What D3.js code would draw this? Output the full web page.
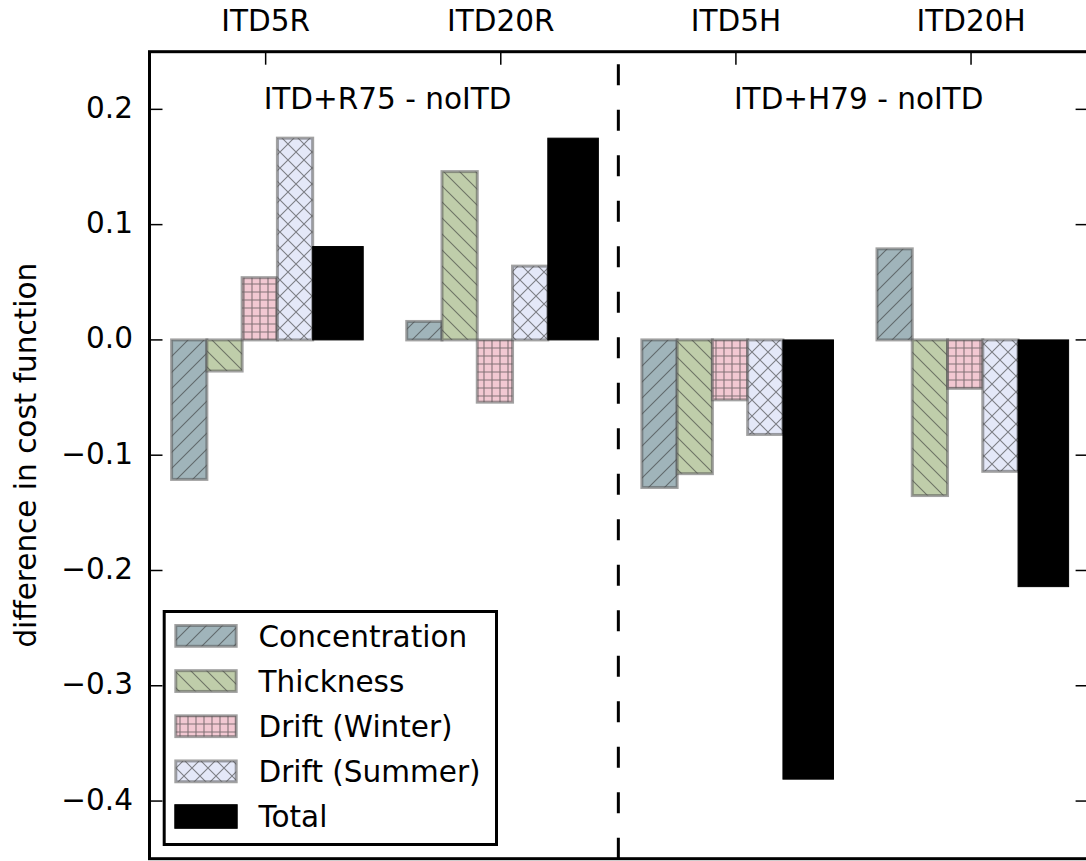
<!DOCTYPE html>
<html>
<head>
<meta charset="utf-8">
<script src="https://cdn.jsdelivr.net/npm/d3@7"></script>
<style>
  html, body { margin: 0; padding: 0; background: #fff; }
  svg { display: block; }
  text { font-family: "DejaVu Sans", sans-serif; fill: #000; }
</style>
</head>
<body>
<svg id="chart" width="1086" height="861"></svg>
<script>
// ---- data ----
const categories = ["ITD5R", "ITD20R", "ITD5H", "ITD20H"];
const seriesNames = ["Concentration", "Thickness", "Drift (Winter)", "Drift (Summer)", "Total"];
const concentration = [-0.121, 0.016, -0.128, 0.079];
const thickness     = [-0.027, 0.146, -0.116, -0.135];
const driftWinter   = [0.054, -0.054, -0.052, -0.042];
const driftSummer   = [0.175, 0.064, -0.082, -0.114];
const total         = [0.081, 0.175, -0.381, -0.214];
const yTicks = [-0.4, -0.3, -0.2, -0.1, 0.0, 0.1, 0.2];
const groupLabels = ["ITD+R75 - noITD", "ITD+H79 - noITD"];

const seriesValues = [concentration, thickness, driftWinter, driftSummer, total];
const barOffsets = [-0.4, -0.25, -0.1, 0.05, 0.2];
const barWidths = [0.15, 0.15, 0.15, 0.15, 0.215];
const fills = ["#a0b4ba", "#bfcdaa", "#f2c8d2", "#e4e8f8", "#000000"];
const hatchKinds = ["fwd", "back", "grid", "cross", null];

const svg = d3.select("#chart");
const pLeft = 149.5, pRight = 1088.6, pTop = 51.7, pBottom = 858.7;
const x = d3.scaleLinear().domain([-0.494, 3.5]).range([pLeft, pRight]);
const y = d3.scaleLinear().domain([-0.45, 0.25]).range([pBottom, pTop]);

// ---- hatch patterns ----
const defs = svg.append("defs");
const hatchStroke = "rgba(55,55,55,0.6)";
function addPattern(id, kind, color) {
  const s = (kind === "grid") ? 8 : 16;
  const p = defs.append("pattern").attr("id", id)
    .attr("patternUnits", "userSpaceOnUse").attr("width", s).attr("height", s);
  p.append("rect").attr("width", s).attr("height", s).attr("fill", color);
  let d;
  if (kind === "fwd") d = `M0,${s} L${s},0 M${-s/4},${s/4} L${s/4},${-s/4} M${3*s/4},${5*s/4} L${5*s/4},${3*s/4}`;
  if (kind === "back") d = `M0,0 L${s},${s} M${-s/4},${3*s/4} L${s/4},${5*s/4} M${3*s/4},${-s/4} L${5*s/4},${s/4}`;
  if (kind === "grid") d = `M${s/2},0 V${s} M0,${s/2} H${s}`;
  if (kind === "cross") d = `M0,${s} L${s},0 M${-s/4},${s/4} L${s/4},${-s/4} M${3*s/4},${5*s/4} L${5*s/4},${3*s/4} M0,0 L${s},${s} M${-s/4},${3*s/4} L${s/4},${5*s/4} M${3*s/4},${-s/4} L${5*s/4},${s/4}`;
  p.append("path").attr("d", d).attr("stroke", hatchStroke).attr("stroke-width", 1.1).attr("fill", "none");
}
hatchKinds.forEach((k, i) => { if (k) addPattern("hatch" + i, k, fills[i]); });
function fillFor(i) { return hatchKinds[i] ? `url(#hatch${i})` : fills[i]; }
const edgeStroke = "rgba(85,85,85,0.55)";

// ---- bars ----
seriesValues.forEach((vals, si) => {
  const g = svg.append("g");
  g.selectAll("rect").data(vals).join("rect")
    .attr("x", (d, ci) => x(ci + barOffsets[si]))
    .attr("width", x(barWidths[si]) - x(0))
    .attr("y", d => y(Math.max(0, d)))
    .attr("height", d => Math.abs(y(d) - y(0)))
    .attr("fill", fillFor(si))
    .attr("stroke", hatchKinds[si] ? edgeStroke : "#000")
    .attr("stroke-width", hatchKinds[si] ? 3 : 1);
});

// ---- dashed separator ----
svg.append("line")
  .attr("x1", x(1.5)).attr("x2", x(1.5))
  .attr("y1", y(-0.45)).attr("y2", y(0.25))
  .attr("stroke", "#000").attr("stroke-width", 3)
  .attr("stroke-dasharray", "21,24.5");

// ---- group annotations ----
svg.selectAll("text.grp").data(groupLabels).join("text")
  .attr("class", "grp")
  .attr("x", (d, i) => x(i * 2) - 2)
  .attr("y", y(0.2))
  .attr("font-size", 29.5)
  .text(d => d);

// ---- y axis ticks (left & right, inward) ----
const fmt = d3.format(".1f");
yTicks.forEach(t => {
  svg.append("line").attr("x1", pLeft).attr("x2", pLeft + 13)
    .attr("y1", y(t)).attr("y2", y(t)).attr("stroke", "#000").attr("stroke-width", 1.5);
  svg.append("line").attr("x1", pRight - 13).attr("x2", pRight)
    .attr("y1", y(t)).attr("y2", y(t)).attr("stroke", "#000").attr("stroke-width", 1.5);
  svg.append("text").attr("x", 133).attr("y", y(t) + 8.5)
    .attr("text-anchor", "end").attr("font-size", 29.5).text(fmt(t));
});

// ---- x axis (top) ----
categories.forEach((c, i) => {
  svg.append("line").attr("x1", x(i)).attr("x2", x(i))
    .attr("y1", pTop).attr("y2", pTop + 13).attr("stroke", "#000").attr("stroke-width", 1.5);
  svg.append("text").attr("x", x(i)).attr("y", 31)
    .attr("text-anchor", "middle").attr("font-size", 29.5).text(c);
});

// ---- frame ----
svg.append("rect").attr("x", pLeft).attr("y", pTop)
  .attr("width", pRight - pLeft).attr("height", pBottom - pTop)
  .attr("fill", "none").attr("stroke", "#000").attr("stroke-width", 3);

// ---- y label ----
svg.append("text")
  .attr("transform", `translate(36,${(pTop + pBottom) / 2}) rotate(-90)`)
  .attr("text-anchor", "middle").attr("font-size", 29.5)
  .text("difference in cost function");

// ---- legend ----
const lg = svg.append("g");
lg.append("rect").attr("x", 164.2).attr("y", 611.5)
  .attr("width", 332.3).attr("height", 233)
  .attr("fill", "#fff").attr("stroke", "#000").attr("stroke-width", 3);
seriesNames.forEach((name, i) => {
  const cy = 635.9 + i * 45.15;
  if (hatchKinds[i]) {
    lg.append("rect").attr("x", 175.8).attr("y", cy - 10.4)
      .attr("width", 60.4).attr("height", 20.8)
      .attr("fill", fillFor(i)).attr("stroke", edgeStroke).attr("stroke-width", 3);
  } else {
    lg.append("rect").attr("x", 174.8).attr("y", cy - 11.8)
      .attr("width", 62.4).attr("height", 23.6)
      .attr("fill", "#000").attr("stroke", "#000").attr("stroke-width", 1);
  }
  lg.append("text").attr("x", 258.5).attr("y", cy + 10.8)
    .attr("font-size", 29.5).text(name);
});
</script>
</body>
</html>
